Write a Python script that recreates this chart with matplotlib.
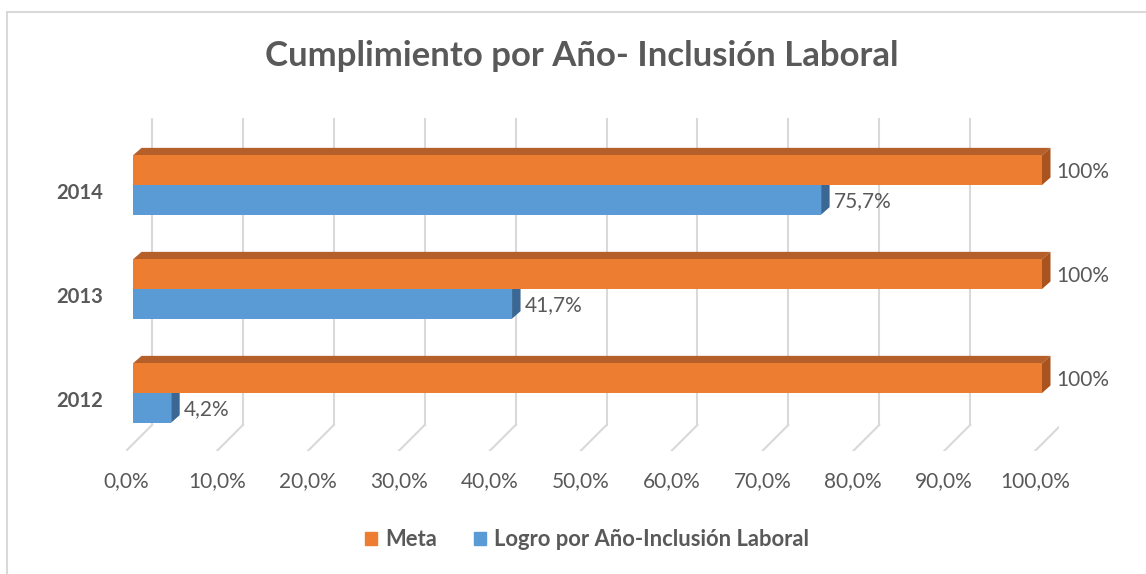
import matplotlib.pyplot as plt
from matplotlib.patches import Polygon, Patch, Rectangle

plt.rcParams['font.family'] = ['Lato', 'DejaVu Sans']

# datos
anios = ['2012', '2013', '2014']
meta = [100, 100, 100]
logro = [4.2, 41.7, 75.7]
meta_lbl = ['100%', '100%', '100%']
logro_lbl = ['4,2%', '41,7%', '75,7%']
ticks = [0, 10, 20, 30, 40, 50, 60, 70, 80, 90, 100]
tick_lbl = ['%d,0%%' % t for t in ticks]

naranja = '#ED7D31'
naranja_top = '#B5602A'
naranja_lado = '#A9531F'
azul = '#5B9BD5'
azul_lado = '#3A6793'
gris = '#595959'
grid_c = '#D9D9D9'

W, H = 1146, 574
fig = plt.figure(figsize=(W / 100, H / 100), dpi=100)

# borde del grafico
fig.patches.append(Rectangle((7 / W, -0.1), 1.2, (H - 12) / H + 0.1, transform=fig.transFigure,
                             fill=False, edgecolor='#D9D9D9', lw=1.5))

# ejes: px x 126..1059, px y 118..451
ax = fig.add_axes([126 / W, (H - 451) / H, (1059 - 126) / W, (451 - 118) / H])
px_x = 9.09   # pixeles por unidad x
px_y = 104.0  # pixeles por categoria
ax.set_xlim(-7 / px_x, 100 + 17 / px_x)
ax.set_ylim((393 - 451) / px_y, (393 - 118) / px_y)
ax.axis('off')

# pared y piso (perspectiva)
dxb = 19 / px_x
y_floor_b = (393 - 425) / px_y
y_floor_f = (393 - 451) / px_y
y_top = (393 - 118) / px_y
dxf = -7 / px_x
for t in ticks:
    ax.plot([t + dxb, t + dxb], [y_floor_b, y_top], color=grid_c, lw=1.5, zorder=1)
    ax.plot([t + dxb, t + dxf], [y_floor_b, y_floor_f], color=grid_c, lw=1.5, zorder=1)

for t, l in zip(ticks, tick_lbl):
    ax.text(t + dxf, (393 - 481) / px_y, l, ha='center', va='center', fontsize=15,
            color=gris, clip_on=False)

hb = 0.285
dx = 8.5 / px_x
dy = 7.5 / px_y
ypos = list(range(len(anios)))

ax.barh([y - hb / 2 for y in ypos], logro, height=hb, color=azul, zorder=3)
ax.barh([y + hb / 2 for y in ypos], meta, height=hb, color=naranja, zorder=5)

for y, v in zip(ypos, logro):
    b, t = y - hb, y
    ax.add_patch(Polygon([(v, b), (v, t), (v + dx, t + dy), (v + dx, b + dy)],
                         closed=True, facecolor=azul_lado, edgecolor='none', zorder=2))
for y, v in zip(ypos, meta):
    b, t = y, y + hb
    ax.add_patch(Polygon([(0, t), (dx, t + dy), (v + dx, t + dy), (v, t)],
                         closed=True, facecolor=naranja_top, edgecolor='none', zorder=4))
    ax.add_patch(Polygon([(v, b), (v, t), (v + dx, t + dy), (v + dx, b + dy)],
                         closed=True, facecolor=naranja_lado, edgecolor='none', zorder=4))

for y, v, l in zip(ypos, meta, meta_lbl):
    ax.annotate(l, (v, y + hb / 2), xytext=(14, -2), textcoords='offset pixels',
                ha='left', va='center', fontsize=15, color=gris, annotation_clip=False)
for y, v, l in zip(ypos, logro, logro_lbl):
    ax.annotate(l, (v, y - hb / 2), xytext=(13, -1), textcoords='offset pixels',
                ha='left', va='center', fontsize=15, color=gris, annotation_clip=False)

for y, a in zip(ypos, anios):
    ax.text(-23 / px_x - 7 / px_x, y - 0.075, a, ha='right', va='center', fontsize=14.6,
            fontweight='bold', color=gris, clip_on=False)

fig.text(582 / W, 1 - 56 / H, 'Cumplimiento por Año- Inclusión Laboral', ha='center',
         va='center', fontsize=25, fontweight='bold', color=gris)

handles = [Patch(color=naranja, label='Meta'),
           Patch(color=azul, label='Logro por Año-Inclusión Laboral')]
fig.legend(handles=handles, loc='center', bbox_to_anchor=(587 / W, 1 - 540 / H), ncol=2,
           frameon=False, prop={'weight': 'bold', 'size': 15.8}, labelcolor=gris,
           handlelength=0.55, handleheight=0.55, handletextpad=0.35, columnspacing=1.7)

fig.savefig('out.png', dpi=100)
